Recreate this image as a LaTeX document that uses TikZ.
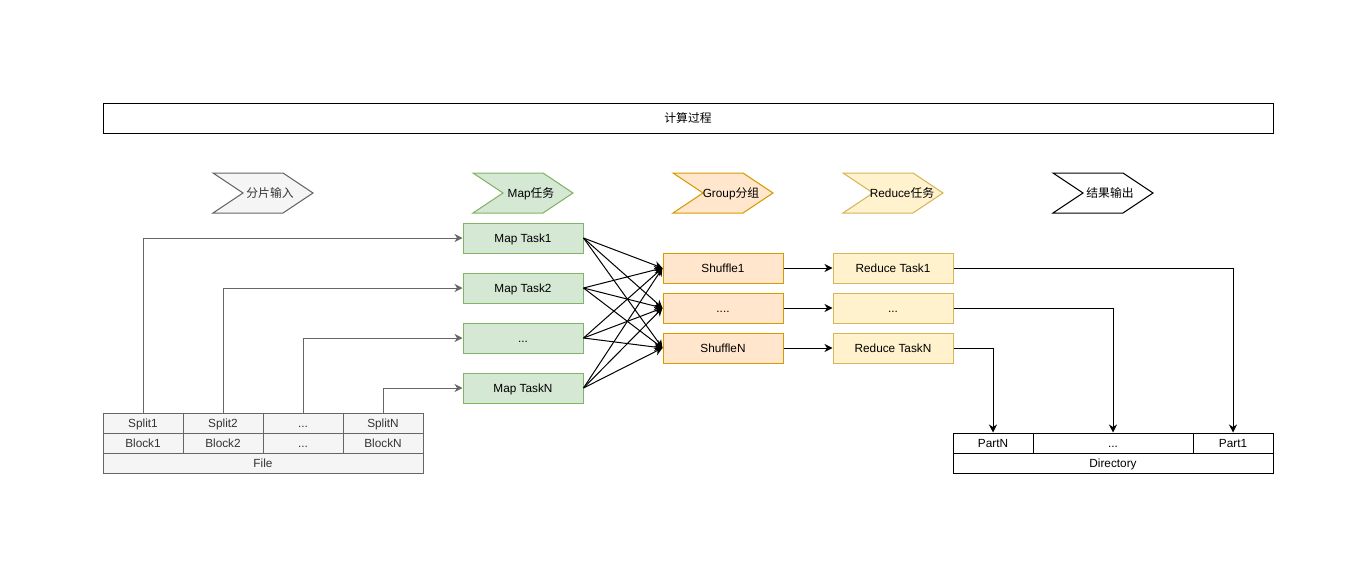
\documentclass[tikz,border=0pt]{standalone}
\usepackage{fontspec}
\setmainfont{Liberation Sans}
\newfontfamily\cjk{Noto Sans CJK SC}
\usetikzlibrary{arrows.meta}
\definecolor{gfill}{HTML}{F5F5F5}
\definecolor{gline}{HTML}{666666}
\definecolor{gtext}{HTML}{333333}
\definecolor{mfill}{HTML}{D5E8D4}
\definecolor{mline}{HTML}{82B366}
\definecolor{ofill}{HTML}{FFE6CC}
\definecolor{oline}{HTML}{D79B00}
\definecolor{yfill}{HTML}{FFF2CC}
\definecolor{yline}{HTML}{D6B656}
\tikzset{
  base/.style={draw, line width=1pt, inner sep=0pt, text height=8.4pt, text depth=0pt, font=\fontsize{11.8}{13}\selectfont},
  graycell/.style={base, draw=gline, fill=gfill, text=gtext, minimum height=20pt},
  whitecell/.style={base, draw=black, fill=white, minimum height=20pt},
  mapbox/.style={base, draw=mline, fill=mfill, minimum width=120pt, minimum height=30pt},
  shufbox/.style={base, draw=oline, fill=ofill, minimum width=120pt, minimum height=30pt},
  redbox/.style={base, draw=yline, fill=yfill, minimum width=120pt, minimum height=30pt},
  chev/.style={line width=1pt},
  chevlabel/.style={inner sep=0pt, text height=8.4pt, text depth=0pt, font=\fontsize{11.8}{13}\selectfont},
  garrow/.style={draw=gline, line width=1pt, -{Stealth[length=8pt,width=8pt,inset=2.5pt]}},
  barrow/.style={draw=black, line width=1pt, -{Stealth[length=8pt,width=8pt,inset=2.5pt]}},
}
\newcommand{\chevron}[3]{% x, fill, line
  \draw[chev, fill=#2, draw=#3] (#1,173) -- ++(70,0) -- ++(30,20) -- ++(-30,20) -- ++(-70,0) -- ++(30,-20) -- cycle;
}
\begin{document}
\begin{tikzpicture}[x=1pt,y=-1pt]
\useasboundingbox (0,0) rectangle (1371,571);

% title
\node[base, draw=black, minimum width=1170pt, minimum height=30pt] (title) at (688,118) {\cjk 计算过程};

% chevrons
\chevron{213}{gfill}{gline}
\node[chevlabel, text=gtext] (c1) at (270,193) {\cjk 分片输入};
\chevron{473}{mfill}{mline}
\node[chevlabel] (c2) at (531,193) {Map{\cjk 任务}};
\chevron{673}{ofill}{oline}
\node[chevlabel] (c3) at (731,193) {Group{\cjk 分组}};
\chevron{843}{yfill}{yline}
\node[chevlabel] (c4) at (902,193) {Reduce{\cjk 任务}};
\chevron{1053}{white}{black}
\node[chevlabel] (c5) at (1110,193) {\cjk 结果输出};

% file table
\node[graycell, minimum width=80pt] (s1) at (143,423) {Split1};
\node[graycell, minimum width=80pt] (s2) at (223,423) {Split2};
\node[graycell, minimum width=80pt] (s3) at (303,423) {...};
\node[graycell, minimum width=80pt] (s4) at (383,423) {SplitN};
\node[graycell, minimum width=80pt] (b1) at (143,443) {Block1};
\node[graycell, minimum width=80pt] (b2) at (223,443) {Block2};
\node[graycell, minimum width=80pt] (b3) at (303,443) {...};
\node[graycell, minimum width=80pt] (b4) at (383,443) {BlockN};
\node[graycell, minimum width=320pt] (file) at (263,463) {File};

% map tasks
\node[mapbox] (m1) at (523,238) {Map Task1};
\node[mapbox] (m2) at (523,288) {Map Task2};
\node[mapbox] (m3) at (523,338) {...};
\node[mapbox] (m4) at (523,388) {Map TaskN};

% shuffle
\node[shufbox] (sh1) at (723,268) {Shuffle1};
\node[shufbox] (sh2) at (723,308) {....};
\node[shufbox] (sh3) at (723,348) {ShuffleN};

% reduce
\node[redbox] (r1) at (893,268) {Reduce Task1};
\node[redbox] (r2) at (893,308) {...};
\node[redbox] (r3) at (893,348) {Reduce TaskN};

% directory
\node[whitecell, minimum width=80pt] (pn) at (993,443) {PartN};
\node[whitecell, minimum width=160pt] (pd) at (1113,443) {...};
\node[whitecell, minimum width=80pt] (p1) at (1233,443) {Part1};
\node[whitecell, minimum width=320pt] (dir) at (1113,463) {Directory};

% split -> map
\draw[garrow] (s1.north) |- (m1.west);
\draw[garrow] (s2.north) |- (m2.west);
\draw[garrow] (s3.north) |- (m3.west);
\draw[garrow] (s4.north) |- (m4.west);

% map -> shuffle
\foreach \m in {m1,m2,m3,m4}
  \foreach \s in {sh1,sh2,sh3}
    \draw[barrow] (\m.east) -- (\s.west);

% shuffle -> reduce
\draw[barrow] (sh1.east) -- (r1.west);
\draw[barrow] (sh2.east) -- (r2.west);
\draw[barrow] (sh3.east) -- (r3.west);

% reduce -> directory
\draw[barrow] (r1.east) -| (p1.north);
\draw[barrow] (r2.east) -| (pd.north);
\draw[barrow] (r3.east) -| (pn.north);
\end{tikzpicture}
\end{document}
